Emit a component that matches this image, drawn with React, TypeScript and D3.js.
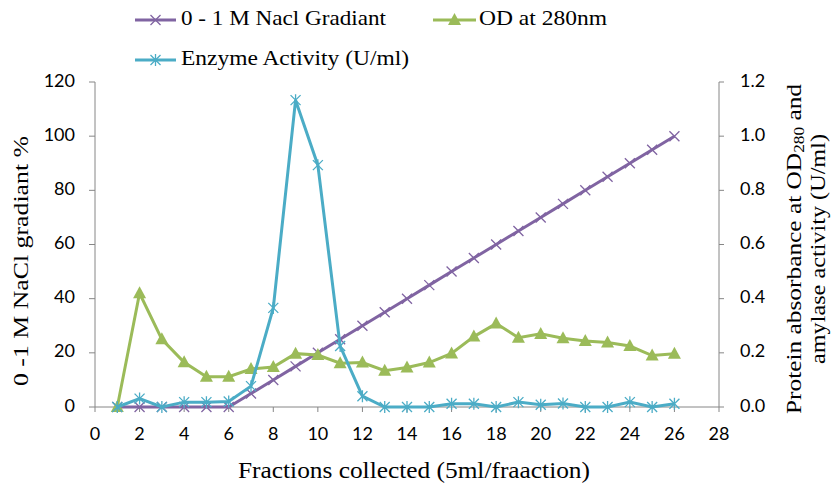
import * as d3 from "d3";

const fractions = d3.range(1, 27);
const gradient = [0, 0, 0, 0, 0, 0, 5, 10, 15, 20, 25, 30, 35, 40, 45, 50, 55, 60, 65, 70, 75, 80, 85, 90, 95, 100];
const od280 = [0, 0.42, 0.25, 0.165, 0.112, 0.112, 0.14, 0.148, 0.197, 0.192, 0.162, 0.164, 0.134, 0.146, 0.164, 0.198, 0.26, 0.308, 0.256, 0.27, 0.254, 0.244, 0.238, 0.225, 0.19, 0.197];
const activity = [0, 0.031, 0, 0.018, 0.018, 0.02, 0.077, 0.366, 1.133, 0.893, 0.225, 0.04, 0, 0, 0, 0.012, 0.012, 0, 0.018, 0.008, 0.013, 0, 0, 0.018, 0, 0.012];

const xTicks = d3.range(0, 29, 2);
const leftTicks = d3.range(0, 121, 20);
const rightTicks = d3.range(0, 1.21, 0.2);

const W = 838;
const H = 486;
const PURPLE = "#8064A2";
const GREEN = "#9BBB59";
const CYAN = "#4BACC6";
const AXIS = "#868686";
const SERIF = "'Liberation Serif', 'Times New Roman', serif";
const SANS = "Lato, 'Open Sans', sans-serif";

const x = d3.scaleLinear().domain([0, 28]).range([95, 719]);
const yL = d3.scaleLinear().domain([0, 120]).range([407, 82]);
const yR = d3.scaleLinear().domain([0, 1.2]).range([407, 82]);

const Cross = ({ cx, cy }: { cx: number; cy: number }) => (
  <path d={`M${cx - 5},${cy - 5}L${cx + 5},${cy + 5}M${cx - 5},${cy + 5}L${cx + 5},${cy - 5}`} stroke={PURPLE} strokeWidth={1.3} />
);

const Tri = ({ cx, cy }: { cx: number; cy: number }) => (
  <path d={`M${cx},${cy - 7}L${cx + 6.5},${cy + 5}L${cx - 6.5},${cy + 5}Z`} fill={GREEN} />
);

const Star = ({ cx, cy }: { cx: number; cy: number }) => (
  <path
    d={`M${cx - 5},${cy - 5}L${cx + 5},${cy + 5}M${cx - 5},${cy + 5}L${cx + 5},${cy - 5}M${cx},${cy - 6}L${cx},${cy + 6}`}
    stroke={CYAN}
    strokeWidth={1.3}
  />
);

export default function App() {
  const lineL = d3.line<number>().x((_, i) => x(fractions[i])).y((d) => yL(d));
  const lineR = d3.line<number>().x((_, i) => x(fractions[i])).y((d) => yR(d));

  return (
    <svg width={W} height={H} style={{ position: "absolute", left: 0, top: 0, background: "#fff" }}>
      {/* axes */}
      <line x1={x(0)} x2={x(28)} y1={yL(0)} y2={yL(0)} stroke={AXIS} />
      <line x1={x(0)} x2={x(0)} y1={yL(0)} y2={yL(120)} stroke={AXIS} />
      <line x1={x(28)} x2={x(28)} y1={yR(0)} y2={yR(1.2)} stroke={AXIS} />
      {xTicks.map((t) => (
        <g key={t}>
          <line x1={x(t)} x2={x(t)} y1={yL(0)} y2={yL(0) + 5} stroke={AXIS} />
          <text x={x(t)} y={435} textAnchor="middle" dominantBaseline="middle" fontFamily={SANS} fontSize={18}>
            {t}
          </text>
        </g>
      ))}
      {leftTicks.map((t) => (
        <g key={t}>
          <line x1={x(0) - 6} x2={x(0)} y1={yL(t)} y2={yL(t)} stroke={AXIS} />
          <text x={75} y={yL(t)} textAnchor="end" dominantBaseline="middle" fontFamily={SANS} fontSize={18}>
            {t}
          </text>
        </g>
      ))}
      {rightTicks.map((t) => (
        <g key={t}>
          <line x1={x(28)} x2={x(28) + 5} y1={yR(t)} y2={yR(t)} stroke={AXIS} />
          <text x={740} y={yR(t)} textAnchor="start" dominantBaseline="middle" fontFamily={SANS} fontSize={18}>
            {t.toFixed(1)}
          </text>
        </g>
      ))}

      {/* axis titles */}
      <text x={414} y={473} textAnchor="middle" dominantBaseline="middle" fontFamily={SERIF} fontSize={23} textLength={352} lengthAdjust="spacingAndGlyphs">
        Fractions collected (5ml/fraaction)
      </text>
      <text
        transform="translate(23,261) rotate(-90)"
        textAnchor="middle"
        dominantBaseline="middle"
        fontFamily={SERIF}
        fontSize={22}
        textLength={250}
        lengthAdjust="spacingAndGlyphs"
      >
        0 -1 M NaCl gradiant %
      </text>
      <g transform="translate(796,249) rotate(-90)" fontFamily={SERIF} fontSize={22}>
        <text x={0} y={0} textAnchor="middle" dominantBaseline="middle" textLength={330} lengthAdjust="spacingAndGlyphs">
          Protein absorbance at OD
          <tspan fontSize={15} dy={5}>280</tspan>
          <tspan dy={-5}> and</tspan>
        </text>
        <text x={0} y={24} textAnchor="middle" dominantBaseline="middle" textLength={230} lengthAdjust="spacingAndGlyphs">
          amylase activity (U/ml)
        </text>
      </g>

      {/* series */}
      <path d={lineL(gradient) ?? ""} fill="none" stroke={PURPLE} strokeWidth={3} />
      {gradient.map((d, i) => (
        <Cross key={i} cx={x(fractions[i])} cy={yL(d)} />
      ))}
      <path d={lineR(od280) ?? ""} fill="none" stroke={GREEN} strokeWidth={3} />
      {od280.map((d, i) => (
        <Tri key={i} cx={x(fractions[i])} cy={yR(d)} />
      ))}
      <path d={lineR(activity) ?? ""} fill="none" stroke={CYAN} strokeWidth={3} />
      {activity.map((d, i) => (
        <Star key={i} cx={x(fractions[i])} cy={yR(d)} />
      ))}

      {/* legend */}
      <g fontFamily={SERIF} fontSize={21}>
        <line x1={135} x2={176} y1={20} y2={20} stroke={PURPLE} strokeWidth={3} />
        <Cross cx={155.5} cy={20} />
        <text x={181} y={20} dominantBaseline="middle" textLength={205} lengthAdjust="spacingAndGlyphs">0 - 1 M Nacl Gradiant</text>
        <line x1={433} x2={476} y1={20} y2={20} stroke={GREEN} strokeWidth={3} />
        <Tri cx={454.5} cy={20} />
        <text x={479} y={20} dominantBaseline="middle" textLength={128} lengthAdjust="spacingAndGlyphs">OD at 280nm</text>
        <line x1={135} x2={176} y1={60} y2={60} stroke={CYAN} strokeWidth={3} />
        <Star cx={155.5} cy={60} />
        <text x={181} y={60} dominantBaseline="middle" textLength={228} lengthAdjust="spacingAndGlyphs">Enzyme Activity (U/ml)</text>
      </g>
    </svg>
  );
}
